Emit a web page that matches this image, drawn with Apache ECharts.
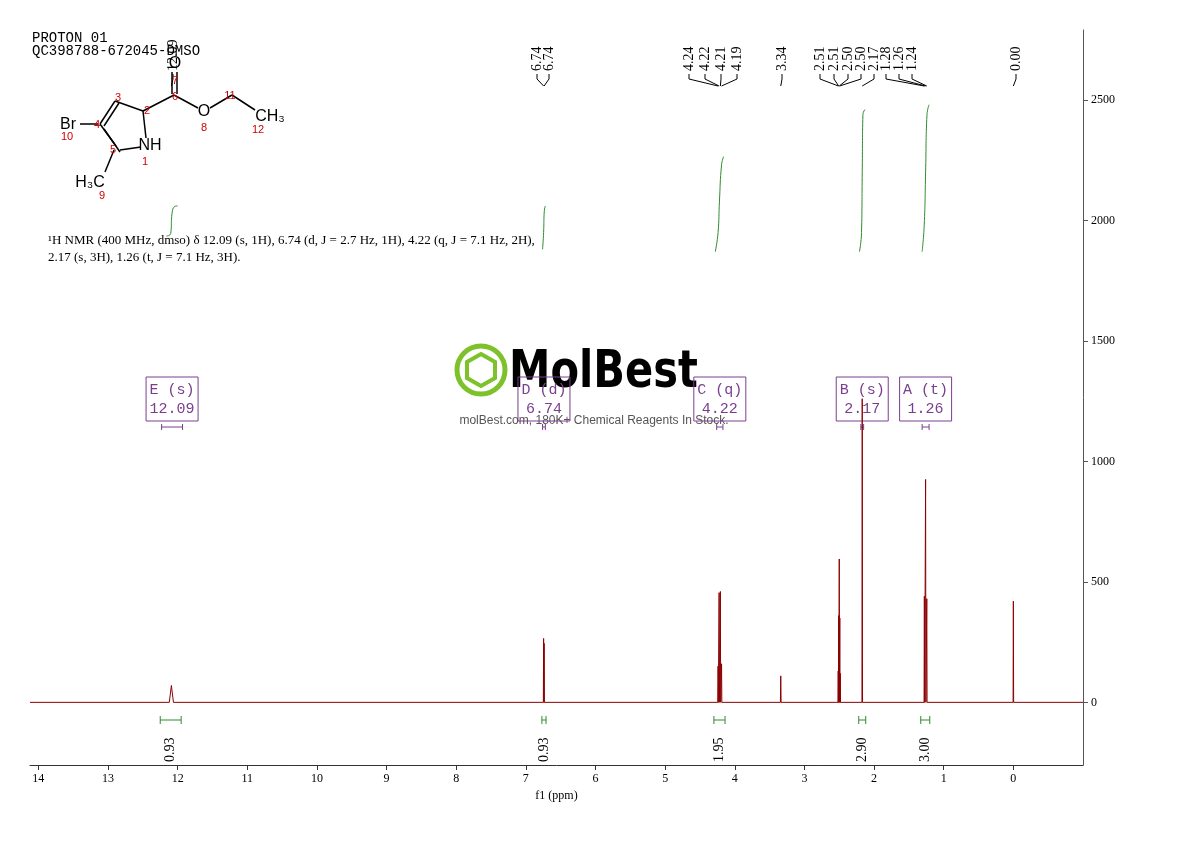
<!DOCTYPE html>
<html><head><meta charset="utf-8">
<script src="https://cdn.jsdelivr.net/npm/echarts@6/dist/echarts.min.js"></script>
<style>html,body{margin:0;background:#fff}#container{width:1190px;height:841px}</style>
</head><body><div id="container"></div>
<script>
// peaks: ppm, height, half width (ppm)
var peakPpm = [12.09, 6.745, 6.738, 4.24, 4.225, 4.207, 4.19, 3.34, 2.515, 2.508, 2.50, 2.492, 2.485, 2.17, 1.278, 1.26, 1.243, 0.00];
var peakHeight = [70, 265, 245, 150, 455, 460, 160, 110, 130, 360, 595, 350, 120, 1260, 440, 925, 430, 420];
var peakWidth = [0.03, 0.004, 0.004, 0.004, 0.004, 0.004, 0.004, 0.005, 0.003, 0.003, 0.003, 0.003, 0.003, 0.004, 0.004, 0.004, 0.004, 0.004];

// integral curves [ppm, value]
var integE = [[12.16, 1935], [12.10, 1945], [12.08, 2030], [12.04, 2058], [12.00, 2060]];
var integD = [[6.76, 1880], [6.745, 1950], [6.735, 2040], [6.72, 2060]];
var integC = [[4.28, 1870], [4.24, 1950], [4.22, 2080], [4.19, 2230], [4.16, 2265]];
var integB = [[2.21, 1870], [2.18, 1950], [2.17, 2200], [2.16, 2440], [2.13, 2460]];
var integA = [[1.31, 1870], [1.28, 1980], [1.26, 2200], [1.24, 2440], [1.21, 2480]];

var peakLabels = ['12.09', '6.74', '6.74', '4.24', '4.22', '4.21', '4.19', '3.34', '2.51', '2.51', '2.50', '2.50', '2.17', '1.28', '1.26', '1.24', '0.00'];
var labelPeakPpm = [12.09, 6.745, 6.738, 4.24, 4.225, 4.207, 4.19, 3.34, 2.512, 2.508, 2.50, 2.495, 2.17, 1.278, 1.26, 1.243, 0.0];

var integRanges = [[12.25, 11.95], [6.77, 6.71], [4.30, 4.14], [2.22, 2.12], [1.33, 1.20]];
var integValues = ['0.93', '0.93', '1.95', '2.90', '3.00'];

var multNames = ['E (s)', 'D (d)', 'C (q)', 'B (s)', 'A (t)'];
var multShifts = ['12.09', '6.74', '4.22', '2.17', '1.26'];
var multRanges = [[12.23, 11.93], [6.76, 6.72], [4.26, 4.17], [2.19, 2.15], [1.31, 1.21]];

var yTicks = [0, 500, 1000, 1500, 2000, 2500];

var spec = [[14.12, 0]];
var order = peakPpm.map(function (p, i) { return i; }).sort(function (a, b) { return peakPpm[b] - peakPpm[a]; });
order.forEach(function (i) {
  spec.push([peakPpm[i] + peakWidth[i], 0]);
  spec.push([peakPpm[i], peakHeight[i]]);
  spec.push([peakPpm[i] - peakWidth[i], 0]);
});
spec.push([-1, 0]);

function integSeries(d) {
  return { type: 'line', data: d, showSymbol: false, smooth: true, lineStyle: { color: '#2e8b2e', width: 1 }, silent: true };
}

var myChart = echarts.init(document.getElementById('container'), null, { renderer: 'canvas' });
var serif = '"Liberation Serif", "DejaVu Serif", serif';
var option = {
  animation: false,
  grid: { left: 30, right: 107, top: 30, bottom: 76 },
  xAxis: {
    type: 'value', inverse: true, min: -1, max: 14.12, interval: 1,
    splitLine: { show: false },
    axisLine: { onZero: false, lineStyle: { color: '#333' } },
    axisTick: { inside: false, length: 5, lineStyle: { color: '#333' } },
    axisLabel: { showMaxLabel: false, showMinLabel: false, color: '#000', fontFamily: serif, fontSize: 12 },
    name: 'f1 (ppm)', nameLocation: 'middle', nameGap: 22,
    nameTextStyle: { color: '#000', fontFamily: serif, fontSize: 12 }
  },
  yAxis: {
    type: 'value', position: 'right', min: -260, max: 2790,
    splitLine: { show: false },
    axisLine: { show: true, onZero: false, lineStyle: { color: '#555' } },
    axisTick: { show: true, customValues: yTicks, length: 5 },
    axisLabel: { customValues: yTicks, formatter: function (v) { return String(v); }, color: '#000', fontFamily: serif, fontSize: 12 }
  },
  series: [
    { type: 'line', data: spec, showSymbol: false, lineStyle: { color: '#8b0000', width: 1 }, silent: true },
    integSeries(integE), integSeries(integD), integSeries(integC), integSeries(integB), integSeries(integA)
  ]
};
myChart.setOption(option);

function px(ppm) { return myChart.convertToPixel({ gridIndex: 0 }, [ppm, 0])[0]; }

var g = [];
// watermark (drawn first, under the boxes)
g.push({ type: 'circle', shape: { cx: 481, cy: 370, r: 24 }, style: { stroke: '#7dc22a', lineWidth: 5, fill: null } });
g.push({ type: 'polygon', shape: { points: [[481, 354], [495, 362], [495, 378], [481, 386], [467, 378], [467, 362]] }, style: { stroke: '#7dc22a', lineWidth: 4, fill: null } });
g.push({ type: 'text', x: 509, y: 373, scaleX: 0.8, style: { text: 'MolBest', font: 'bold 52px "DejaVu Sans", sans-serif', fill: '#000', verticalAlign: 'middle' } });
g.push({ type: 'text', x: 594, y: 421, style: { text: 'molBest.com, 180K+ Chemical Reagents In Stock.', font: '12px "Liberation Sans", sans-serif', fill: '#555', align: 'center', verticalAlign: 'middle' } });
// top peak labels
var labelX = [173, 537, 549, 689, 705, 721, 737, 782, 820, 834, 848, 861, 874, 886, 899, 912, 1016];
peakLabels.forEach(function (t, i) {
  g.push({ type: 'polyline', shape: { points: [[px(labelPeakPpm[i]), 86], [labelX[i], 79], [labelX[i], 74]] }, style: { stroke: '#000', lineWidth: 1, fill: null } });
  g.push({ type: 'text', x: labelX[i], y: 71, rotation: Math.PI / 2, style: { text: t, font: '14px ' + serif, fill: '#000', align: 'left', verticalAlign: 'middle' } });
});
// integrals under the axis
integRanges.forEach(function (r, i) {
  var a = px(r[0]), b = px(r[1]), c = (a + b) / 2;
  g.push({ type: 'polyline', shape: { points: [[a, 716], [a, 724]] }, style: { stroke: '#2e8b2e', lineWidth: 1 } });
  g.push({ type: 'polyline', shape: { points: [[b, 716], [b, 724]] }, style: { stroke: '#2e8b2e', lineWidth: 1 } });
  g.push({ type: 'line', shape: { x1: a, y1: 720, x2: b, y2: 720 }, style: { stroke: '#2e8b2e', lineWidth: 1 } });
  g.push({ type: 'text', x: c, y: 762, rotation: Math.PI / 2, style: { text: integValues[i], font: '14px ' + serif, fill: '#000', align: 'left', verticalAlign: 'middle' } });
});
// multiplet boxes
multNames.forEach(function (n, i) {
  var a = px(multRanges[i][0]), b = px(multRanges[i][1]), c = (a + b) / 2;
  g.push({ type: 'rect', shape: { x: c - 26, y: 377, width: 52, height: 44 }, style: { stroke: '#7a3e8f', fill: 'rgba(255,255,255,0)', lineWidth: 1 } });
  g.push({ type: 'text', x: c, y: 390, style: { text: n, font: '15px "Liberation Mono", monospace', fill: '#7a3e8f', align: 'center', verticalAlign: 'middle' } });
  g.push({ type: 'text', x: c, y: 409, style: { text: multShifts[i], font: '15px "Liberation Mono", monospace', fill: '#7a3e8f', align: 'center', verticalAlign: 'middle' } });
  g.push({ type: 'polyline', shape: { points: [[a, 424], [a, 430]] }, style: { stroke: '#7a3e8f' } });
  g.push({ type: 'polyline', shape: { points: [[b, 424], [b, 430]] }, style: { stroke: '#7a3e8f' } });
  g.push({ type: 'line', shape: { x1: a, y1: 427, x2: b, y2: 427 }, style: { stroke: '#7a3e8f' } });
});
// title text
g.push({ type: 'text', x: 32, y: 32, style: { text: 'PROTON 01\nQC398788-672045-DMSO', font: '14px "Liberation Mono", monospace', fill: '#000', lineHeight: 13 } });
g.push({ type: 'text', x: 48, y: 232, style: { text: '\u00b9H NMR (400 MHz, dmso) \u03b4 12.09 (s, 1H), 6.74 (d, J = 2.7 Hz, 1H), 4.22 (q, J = 7.1 Hz, 2H),\n2.17 (s, 3H), 1.26 (t, J = 7.1 Hz, 3H).', font: '13px ' + serif, fill: '#000', lineHeight: 17 } });
// structure
var bonds = [[[100, 124], [115, 101]], [[104, 126], [119, 103]], [[115, 101], [143, 111]], [[143, 111], [146, 138]], [[141, 147], [120, 150]], [[116, 146], [100, 124]], [[120, 152], [104, 129]], [[80, 124], [98, 124]], [[114, 150], [105, 172]],
  [[143, 111], [174, 95]], [[172, 94], [172, 72]], [[177, 94], [177, 72]], [[174, 95], [198, 108]], [[210, 108], [232, 95]], [[232, 95], [255, 110]]];
bonds.forEach(function (b) { g.push({ type: 'line', shape: { x1: b[0][0], y1: b[0][1], x2: b[1][0], y2: b[1][1] }, style: { stroke: '#000', lineWidth: 1.5 } }); });
var atoms = [['Br', 68, 125], ['NH', 150, 146], ['O', 175, 64], ['O', 204, 112], ['CH\u2083', 270, 117], ['H\u2083C', 90, 183]];
atoms.forEach(function (a) { g.push({ type: 'text', x: a[1], y: a[2], style: { text: a[0], font: '16px "Liberation Sans", Arial, sans-serif', fill: '#000', align: 'center', verticalAlign: 'middle' } }); });
var nums = [['3', 118, 98], ['2', 147, 111], ['4', 97, 125], ['5', 113, 150], ['1', 145, 162], ['10', 67, 137], ['9', 102, 196], ['6', 175, 97], ['7', 175, 81], ['8', 204, 128], ['11', 230, 96], ['12', 258, 130]];
nums.forEach(function (a) { g.push({ type: 'text', x: a[1], y: a[2], style: { text: a[0], font: '11px "Liberation Sans", sans-serif', fill: '#d00000', align: 'center', verticalAlign: 'middle' } }); });

myChart.setOption({ graphic: g });
window.addEventListener('resize', myChart.resize);
</script></body></html>
